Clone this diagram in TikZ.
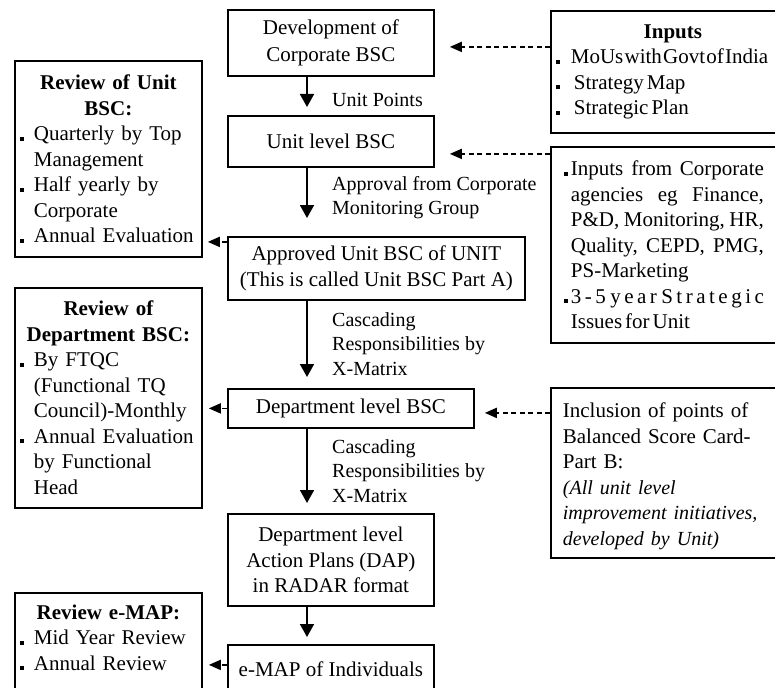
\documentclass[tikz,border=0pt]{standalone}
\usepackage{fontspec}
\setmainfont{Liberation Serif}
\usetikzlibrary{arrows.meta}
\setlength{\parindent}{0pt}
\setlength{\parskip}{0pt}
% text sizes
\newcommand{\bxfont}{\fontsize{21}{25.5}\selectfont}
\newcommand{\lbfont}{\fontsize{20}{24.5}\selectfont}
% square list markers
\newcommand{\sqb}{\rule{4pt}{4pt}}
\newcommand{\bitem}{\makebox[14pt][l]{\sqb}}
\newcommand{\bcont}{\hspace*{14pt}}
\newcommand{\ritem}{\makebox[15pt][l]{\sqb}}
\newcommand{\rtight}{\makebox[15pt][r]{\sqb\hspace{3pt}}}
\newcommand{\rcont}{\hspace*{15pt}}
\newcommand{\jline}[1]{\makebox[193pt][l]{#1}}
\newcommand{\rind}{\hspace*{7pt}}

\begin{document}
\begin{tikzpicture}[x=1pt,y=-1pt,
  frame/.style={draw, line width=1.8pt, inner sep=0pt, anchor=north west},
  stage/.style={frame, font=\bxfont, align=center},
  panel/.style={frame, font=\bxfont, text width=#1},
  lbl/.style={inner sep=0pt, anchor=west, font=\lbfont, align=left},
  flow/.style={line width=1.8pt, -{Triangle[length=13pt,width=14pt]}},
  dflow/.style={line width=1.8pt, dash pattern=on 5pt off 3.5pt,
                -{Triangle[length=12pt,width=10pt]}},
]
\useasboundingbox (0,0) rectangle (775,687);
\clip (0,0) rectangle (775,687);

% main column
\node[stage, minimum width=206pt, minimum height=66pt] (b1) at (227,9)
  {Development of\\[1.5pt]Corporate BSC};
\node[stage, minimum width=206pt, minimum height=51pt] (b2) at (227,115)
  {Unit level BSC};
\node[stage, minimum width=297pt, minimum height=63pt] (b3) at (227,236)
  {Approved Unit BSC of UNIT\\(This is called Unit BSC Part A)};
\node[stage, minimum width=246pt, minimum height=39pt] (b4) at (227,388)
  {Department level BSC};
\node[stage, minimum width=206pt, minimum height=92pt] (b5) at (227,513)
  {Department level\\Action Plans (DAP)\\in RADAR format};
\node[stage, minimum width=206pt, minimum height=48pt] (b6) at (227,644)
  {e-MAP of Individuals};

% review panels on the left
\node[panel=177pt, minimum width=187pt, minimum height=196pt] (L1) at (14,60) {%
  {\centering\bfseries Review of Unit\\BSC:\par}
  \raggedright
  \bitem Quarterly by Top\\
  \bcont Management\\
  \bitem Half yearly by\\
  \bcont Corporate\\
  \bitem Annual Evaluation};
\node[panel=177pt, minimum width=187pt, minimum height=220pt] (L2) at (14,287) {%
  {\centering\bfseries Review of\\Department BSC:\par}
  \raggedright
  \bitem By FTQC\\
  \bcont (Functional TQ\\
  \bcont Council)-Monthly\\
  \bitem Annual Evaluation\\
  \bcont by Functional\\
  \bcont Head};
% this panel runs past the lower edge; the deep rule keeps its text high
\node[panel=177pt, minimum width=187pt, minimum height=109pt] (L3) at (14,592) {%
  {\centering\bfseries Review e-MAP:\par}
  \raggedright
  \bitem Mid Year Review\\
  \bitem Annual Review\rule[-20pt]{0pt}{1pt}};

% input panels on the right
\node[panel=234pt, minimum width=244pt, minimum height=122pt] (R1) at (550,10) {%
  {\centering\bfseries Inputs\par}
  \raggedright
  \ritem MoUs\hspace{1.2pt}with\hspace{1.2pt}Govt\hspace{1.2pt}of\hspace{1.2pt}India\\
  \ritem\hspace{3pt}Strategy\hspace{3pt}Map\\
  \ritem\hspace{3pt}Strategic\hspace{3pt}Plan};
\node[panel=234pt, minimum width=244pt, minimum height=196pt] (R2) at (550,146) {%
  \raggedright
  \rtight\jline{Inputs\hfill from\hfill Corporate}\\
  \rcont\jline{agencies\hfill eg\hfill Finance,}\\
  \rcont\jline{P\&D,\hfill Monitoring,\hfill HR,}\\
  \rcont\jline{Quality,\hfill CEPD,\hfill PMG,}\\
  \rcont PS-Marketing\\
  \rtight\jline{3\,-\,5\hfill y\,e\,a\,r\hfill S\,t\,r\,a\,t\,e\,g\,i\,c}\\
  \rcont Issues\hspace{3pt}for\hspace{3pt}Unit};
\node[panel=234pt, minimum width=244pt, minimum height=170pt] (R3) at (550,387) {%
  \raggedright
  \rind\rule{0pt}{22pt}Inclusion of points of\\
  \rind Balanced Score Card-\\
  \rind Part B:\\
  {\fontsize{20}{25.5}\selectfont\itshape
  \rind (All unit level\\
  \rind improvement initiatives,\\
  \rind developed by Unit)}};

% labels beside the main arrows
\node[lbl] (p1) at (332,100) {Unit Points};
\node[lbl] (p2) at (332,197.5) {Approval from Corporate\\Monitoring Group};
\node[lbl] (p3) at (332,344) {Cascading\\Responsibilities by\\X-Matrix};
\node[lbl] (p4) at (332,471) {Cascading\\Responsibilities by\\X-Matrix};

% main downward flow
\coordinate (spine) at (307,0);
\draw[flow, shorten >=8pt]  (b1.south -| spine) -- (b2.north -| spine);
\draw[flow, shorten >=18pt] (b2.south -| spine) -- (b3.north -| spine);
\draw[flow, shorten >=11pt] (b3.south -| spine) -- (b4.north -| spine);
\draw[flow, shorten >=10pt] (b4.south -| spine) -- (b5.north -| spine);
\draw[flow, shorten >=7pt]  (b5.south -| spine) -- (b6.north -| spine);

% inputs feeding the main column
\coordinate (e1) at ([yshift=-4pt]b1.east);
\coordinate (e2) at ([yshift=-12.5pt]b2.east);
\coordinate (e4) at ([yshift=-4.5pt]b4.east);
\draw[dflow, shorten >=15pt] (R1.west |- e1) -- (e1);
\draw[dflow, shorten >=15pt] (R2.west |- e2) -- (e2);
\draw[dflow, shorten >=10pt] (R3.west |- e4) -- (e4);

% reviews fed from the main column
\coordinate (w3) at ([yshift=26.5pt]b3.west);
\coordinate (w4) at (b4.west);
\coordinate (w6) at ([yshift=4pt]b6.west);
\draw[dflow, shorten >=5pt] (w3) -- (L1.east |- w3);
\draw[dflow, shorten >=6pt] (w4) -- (L2.east |- w4);
\draw[dflow, shorten >=6pt] (w6) -- (L3.east |- w6);
\end{tikzpicture}
\end{document}
